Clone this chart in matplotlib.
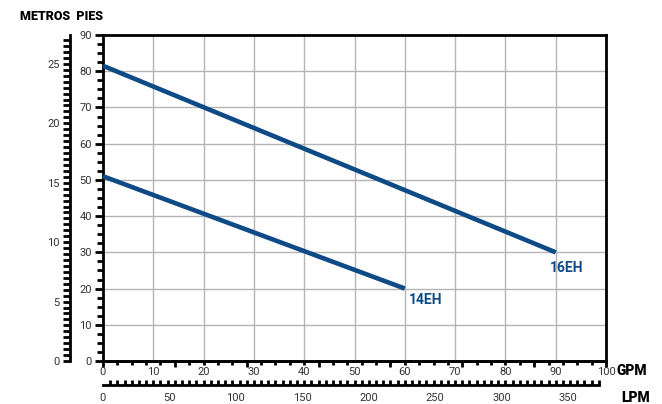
import matplotlib
matplotlib.use('Agg')
import matplotlib.pyplot as plt
from matplotlib.ticker import MultipleLocator, NullFormatter

plt.rcParams['font.family'] = ['Roboto', 'DejaVu Sans']

# curve data (GPM vs feet)
gpm_16eh = [0, 90]
ft_16eh = [81.5, 30]
gpm_14eh = [0, 60]
ft_14eh = [51, 20]

gpm_ticks = list(range(0, 101, 10))
ft_ticks = list(range(0, 91, 10))
m_ticks = list(range(0, 26, 5))
lpm_ticks = list(range(0, 351, 50))

LPM_PER_GPM = 3.78541
M_PER_FT = 0.3048
blue = '#0d4a86'
txt = '#333333'

fig = plt.figure(figsize=(6.62, 4.04), dpi=100)
ax = fig.add_axes([103/662, 43/404, 503/662, 326/404])

ax.plot(gpm_16eh, ft_16eh, color=blue, lw=3.3, solid_capstyle='butt', zorder=3)
ax.plot(gpm_14eh, ft_14eh, color=blue, lw=3.3, solid_capstyle='butt', zorder=3)
ax.annotate('16EH', (gpm_16eh[-1], ft_16eh[-1]), xytext=(-4, -11), textcoords='offset points',
            color=blue, fontsize=10, fontweight='bold', va='center', ha='left')
ax.annotate('14EH', (gpm_14eh[-1], ft_14eh[-1]), xytext=(3, -8), textcoords='offset points',
            color=blue, fontsize=10, fontweight='bold', va='center', ha='left')

ax.set_xlim(0, 100)
ax.set_ylim(0, 90)
ax.set_xticks(gpm_ticks)
ax.set_yticks(ft_ticks)
ax.yaxis.set_minor_locator(MultipleLocator(2.5))
ax.grid(True, which='major', color='#b4b4b4', lw=1, zorder=1)
ax.set_axisbelow(True)
ax.tick_params(axis='y', which='major', direction='out', length=6, width=2, pad=2,
               labelsize=8, labelcolor=txt)
ax.tick_params(axis='y', which='minor', direction='out', length=4, width=2)
ax.tick_params(axis='x', which='major', length=0, pad=4.5, labelsize=8, labelcolor=txt)
for s in ax.spines.values():
    s.set_linewidth(2)

# GPM ruler tick marks
gsec = ax.secondary_xaxis('bottom')
gsec.set_xticks([k * 100 / 7 for k in range(8)])
gsec.set_xticks([k * 100 / 35 for k in range(36) if k % 5], minor=True)
gsec.xaxis.set_major_formatter(NullFormatter())
gsec.tick_params(which='major', direction='out', length=4.5, width=2)
gsec.tick_params(which='minor', direction='out', length=3, width=2)
gsec.spines['bottom'].set_linewidth(2)

# metros axis
axm = ax.twinx()
axm.set_ylim(0, 90 * M_PER_FT)
axm.yaxis.set_ticks_position('left')
axm.spines['left'].set_visible(True)
axm.spines['left'].set_position(('outward', 24))
axm.spines['left'].set_linewidth(2)
for k in ['right', 'top', 'bottom']:
    axm.spines[k].set_visible(False)
axm.set_yticks(m_ticks)
axm.yaxis.set_minor_locator(MultipleLocator(0.5))
axm.tick_params(axis='y', which='both', direction='out', length=5, width=2, pad=2,
                labelsize=8, labelcolor=txt)

# LPM ruler
lpm = ax.secondary_xaxis(-24/326, functions=(lambda g: g * LPM_PER_GPM,
                                             lambda l: l / LPM_PER_GPM))
lpm.set_xticks(lpm_ticks)
lpm.set_xticks([k * 100 / 70 * LPM_PER_GPM for k in range(70)], minor=True)
lpm.tick_params(which='major', length=0, pad=6, labelsize=8, labelcolor=txt)
lpm.tick_params(which='minor', direction='in', length=3.5, width=2)
lpm.spines['bottom'].set_linewidth(2)
lpm.spines['bottom'].set_bounds(0, 69 * 100 / 70 * LPM_PER_GPM)

fig.text(632/662, 1 - 371/404, 'GPM', fontsize=10, fontweight='heavy', ha='center', va='center')
fig.text(636/662, 1 - 398/404, 'LPM', fontsize=10, fontweight='heavy', ha='center', va='center')
fig.text(62/662, 1 - 17/404, 'METROS  PIES', fontsize=9, fontweight='heavy', ha='center', va='center')

fig.savefig('out.png', dpi=100)
